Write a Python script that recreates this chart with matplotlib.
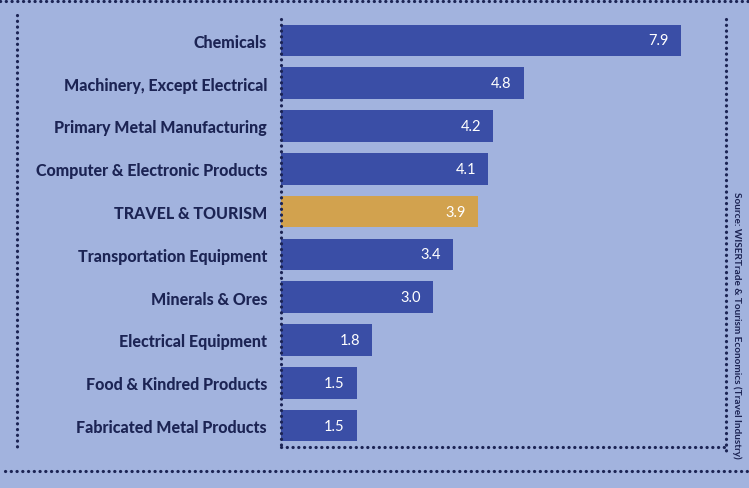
import matplotlib
matplotlib.use("Agg")
import matplotlib.pyplot as plt
from matplotlib.lines import Line2D

categories = [
    "Chemicals",
    "Machinery, Except Electrical",
    "Primary Metal Manufacturing",
    "Computer & Electronic Products",
    "TRAVEL & TOURISM",
    "Transportation Equipment",
    "Minerals & Ores",
    "Electrical Equipment",
    "Food & Kindred Products",
    "Fabricated Metal Products",
]
values = [7.9, 4.8, 4.2, 4.1, 3.9, 3.4, 3.0, 1.8, 1.5, 1.5]
highlight = "TRAVEL & TOURISM"
source = "Source: WISERTrade & Tourism Economics (Travel Industry)"

bg = "#a2b3de"
navy = "#1c2454"
bar_blue = "#3a4ea6"
bar_gold = "#d2a24e"

plt.rcParams["font.family"] = ["Lato", "DejaVu Sans"]

W, H = 749, 489
fig = plt.figure(figsize=(W / 100, H / 100), dpi=100, facecolor=bg)
ax = fig.add_axes([281 / W, 1 - 448 / H, 440 / W, 428 / H], facecolor=bg)

ypos = list(range(len(categories)))
colors = [bar_gold if c == highlight else bar_blue for c in categories]
bars = ax.barh(ypos, values, height=0.74, color=colors, zorder=2)
ax.set_xlim(0, 8.7)
ax.set_ylim(len(categories) - 0.5, -0.5)

ax.set_yticks(ypos)
ax.set_yticklabels(categories, fontsize=11.5, fontweight=900, color=navy)
ax.tick_params(axis="y", length=0, pad=10)
ax.set_xticks([])
for s in ax.spines.values():
    s.set_visible(False)

for b, v in zip(bars, values):
    ax.text(b.get_width() - 0.24, b.get_y() + b.get_height() / 2, f"{v:.1f}",
            ha="right", va="center", color="white", fontsize=10.5, zorder=3)

dot = dict(color=navy, linestyle=(0, (0.05, 1.75)), linewidth=2.3,
           dash_capstyle="round", transform=fig.transFigure)


def fline(x0, y0, x1, y1):
    fig.add_artist(Line2D([x0 / W, x1 / W], [1 - y0 / H, 1 - y1 / H], **dot))


fline(0, 2, W, 2)          # top frame
fline(17, 16, 17, 448)     # left frame
fline(726, 20, 726, 456)   # right frame
fline(5, 472, W, 472)      # bottom frame
fline(281, 20, 281, 448)   # bar axis
fline(281, 448, 726, 448)  # base line

fig.text(737 / W, 1 - 325 / H, source, rotation=-90, ha="center", va="center",
         fontsize=7.2, fontweight="bold", color=navy,
         family=["Liberation Sans Narrow", "Lato", "DejaVu Sans"])

fig.savefig("out.png", dpi=100, facecolor=bg)
